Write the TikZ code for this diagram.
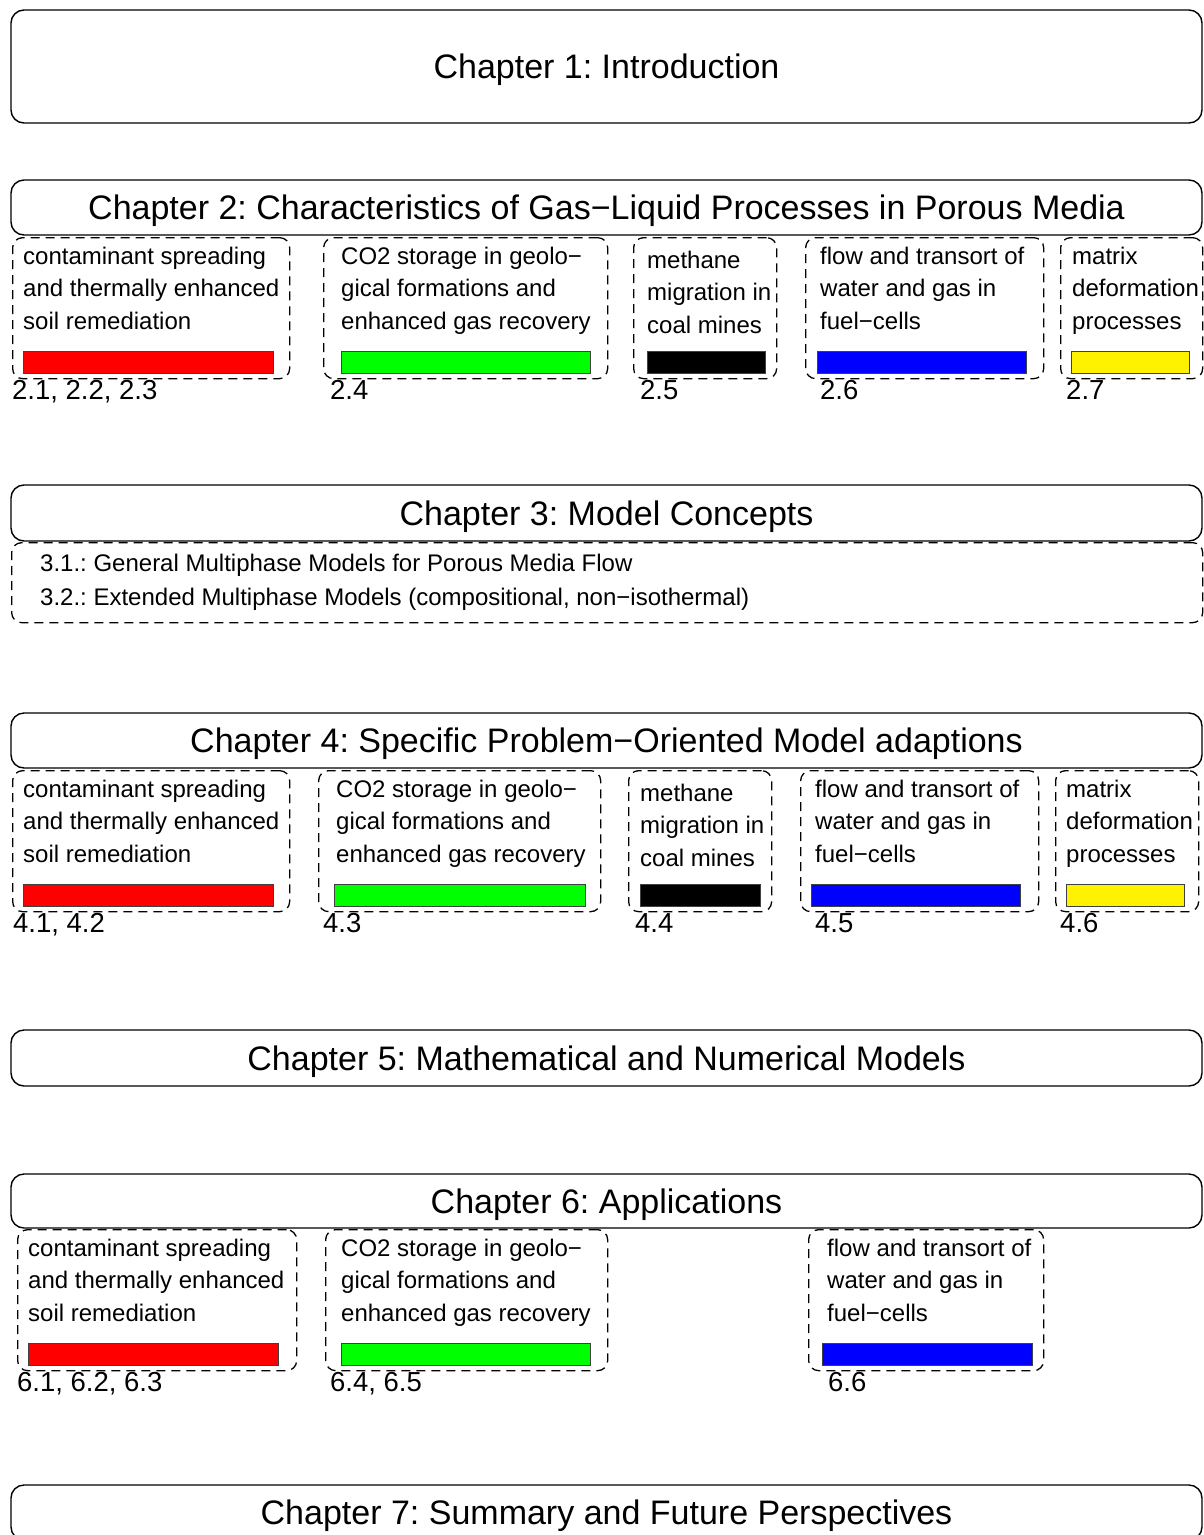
\documentclass[tikz,border=0pt]{standalone}
\usepackage{fontspec}
\setmainfont{Liberation Sans}
\frenchspacing
\newcommand\chapfont{\fontsize{34}{40}\selectfont}
\newcommand\subfont{\fontsize{24}{32.5}\selectfont}
\newcommand\labfont{\fontsize{27.5}{33}\selectfont}
\definecolor{pgreen}{RGB}{0,255,0}
\tikzset{
  chap/.style={draw, line width=1.4pt, rounded corners=13pt, minimum width=1191pt,
    inner sep=0pt, font=\chapfont, text height=31.4pt, text depth=7pt},
  dbox/.style={draw, line width=1.3pt, dash pattern=on 9pt off 6pt, rounded corners=10pt, inner sep=0pt},
  subtxt/.style={font=\subfont, inner sep=0pt},
  labtxt/.style={font=\labfont, inner sep=0pt},
  barbox/.style={draw=black!75, line width=0.9pt, inner sep=0pt}
}
\def\rowtop{0}
\def\pbdy{0}
\def\pblines{}
% #1 name, #2 xL, #3 xR, #4 text x, #5 bar left, #6 bar right, #7 colour, #8 label x, #9 label
\newcommand\procbox[9]{%
  \node[dbox, anchor=north west, minimum width={#3-#2}, minimum height=141] (#1) at (#2,\rowtop) {};
  \foreach \t [count=\i] in \pblines {
    \node[subtxt, anchor=base west] (#1-t\i) at (#4, {\rowtop+27.4+\pbdy+(\i-1)*32.5}) {\t};
  }
  \node[barbox, fill=#7, anchor=north west, minimum width={#6-#5}, minimum height=22.5] (#1-bar) at (#5, \rowtop+113.5) {};
  \node[labtxt, anchor=base west] (#1-lab) at (#8, \rowtop+162) {#9};
}
\begin{document}
\begin{tikzpicture}[x=1pt,y=-1pt]
\useasboundingbox (0,0) rectangle (1204,1535);
\clip (0,0) rectangle (1204,1535);

% chapter boxes
\node[chap, minimum height=113] (ch1) at (606.5,66.5) {Chapter 1: Introduction};
\node[chap, minimum height=55] (ch2) at (606.5,207.5) {Chapter 2: Characteristics of Gas−Liquid Processes in Porous Media};
\node[chap, minimum height=56] (ch3) at (606.5,513) {Chapter 3: Model Concepts};
\node[chap, minimum height=55] (ch4) at (606.5,740.5) {Chapter 4: Specific Problem−Oriented Model adaptions};
\node[chap, minimum height=56] (ch5) at (606.5,1058) {Chapter 5: Mathematical and Numerical Models};
\node[chap, minimum height=54] (ch6) at (606.5,1201) {Chapter 6: Applications};
\node[chap, minimum height=55] (ch7) at (606.5,1512.5) {Chapter 7: Summary and Future Perspectives};

% chapter 2 row
\def\rowtop{237}
\def\pbdy{0}
\def\pblines{contaminant spreading,and thermally enhanced,soil remediation}
\procbox{c2a}{12}{289}{23}{23}{273}{red}{12}{2.1, 2.2, 2.3}
\def\pblines{CO2 storage in geolo−,gical formations and,enhanced gas recovery}
\procbox{c2b}{323}{607}{341}{341}{590}{pgreen}{330}{2.4}
\def\pbdy{4}
\def\pblines{methane,migration in,coal mines}
\procbox{c2c}{633}{776}{647}{647}{765}{black}{640}{2.5}
\def\pbdy{0}
\def\pblines{flow and transort of,water and gas in,fuel−cells}
\procbox{c2d}{805}{1043}{820}{817}{1026}{blue}{820}{2.6}
\def\pblines{matrix,deformation,processes}
\procbox{c2e}{1060}{1202}{1072}{1071}{1189}{yellow}{1066}{2.7}

% chapter 3 list
\node[dbox, anchor=north west, minimum width=1191, minimum height=80] (c3list) at (11,542) {};
\node[subtxt, anchor=base west] (c3a) at (40,571) {3.1.: General Multiphase Models for Porous Media Flow};
\node[subtxt, anchor=base west] (c3b) at (40,605) {3.2.: Extended Multiphase Models (compositional, non−isothermal)};

% chapter 4 row
\def\rowtop{770}
\def\pbdy{0}
\def\pblines{contaminant spreading,and thermally enhanced,soil remediation}
\procbox{c4a}{12}{289}{23}{23}{273}{red}{13}{4.1, 4.2}
\def\pblines{CO2 storage in geolo−,gical formations and,enhanced gas recovery}
\procbox{c4b}{318}{600}{336}{334}{585}{pgreen}{323}{4.3}
\def\pbdy{4}
\def\pblines{methane,migration in,coal mines}
\procbox{c4c}{628}{771}{640}{640}{760}{black}{635}{4.4}
\def\pbdy{0}
\def\pblines{flow and transort of,water and gas in,fuel−cells}
\procbox{c4d}{800}{1038}{815}{811}{1020}{blue}{815}{4.5}
\def\pblines{matrix,deformation,processes}
\procbox{c4e}{1055}{1198}{1066}{1066}{1184}{yellow}{1060}{4.6}

% chapter 6 row
\def\rowtop{1229}
\def\pbdy{0}
\def\pblines{contaminant spreading,and thermally enhanced,soil remediation}
\procbox{c6a}{17}{296}{28}{28}{278}{red}{17}{6.1, 6.2, 6.3}
\def\pblines{CO2 storage in geolo−,gical formations and,enhanced gas recovery}
\procbox{c6b}{325}{607}{341}{341}{590}{pgreen}{330}{6.4, 6.5}
\def\pblines{flow and transort of,water and gas in,fuel−cells}
\procbox{c6d}{808}{1043}{827}{822}{1032}{blue}{828}{6.6}
\end{tikzpicture}
\end{document}
